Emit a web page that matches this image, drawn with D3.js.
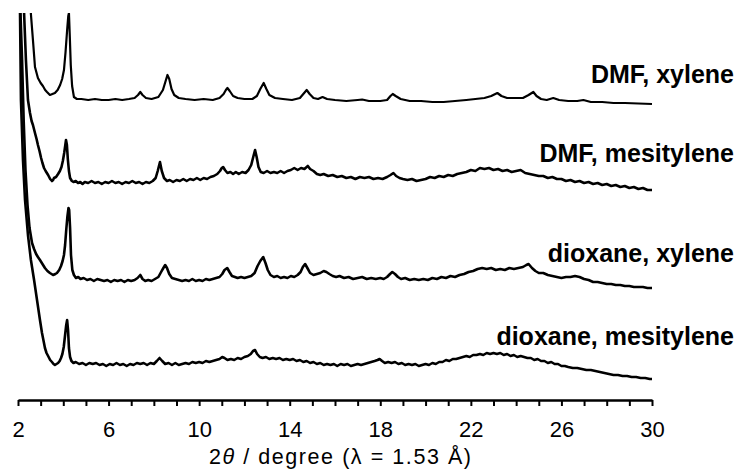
<!DOCTYPE html>
<html>
<head>
<meta charset="utf-8">
<script src="https://cdn.jsdelivr.net/npm/d3@7"></script>
<style>
  body { margin: 0; background: #fff; }
  svg { display: block; font-family: Arial, "Liberation Sans", sans-serif; }
</style>
</head>
<body>
<svg id="chart" width="737" height="470"></svg>
<script>
// 2theta (deg) vs intensity (a.u., relative to each pattern's baseline)
const dmfXylene = [[2.45,160],[2.57,86],[2.66,60],[2.75,33],[2.88,22],[3.0,17],[3.1,14],[3.2,10],[3.28,8],[3.41,5],[3.52,6],[3.63,7],[3.75,10],[3.86,15],[3.95,21],[4.03,30],[4.1,48],[4.17,70],[4.22,84],[4.25,87],[4.29,62],[4.33,35],[4.39,14],[4.47,3],[4.6,1],[4.8,1],[5.1,0],[5.4,1],[5.7,0],[6.0,0],[6.3,1],[6.6,0],[6.9,1],[7.15,2],[7.3,5],[7.4,8],[7.5,5],[7.65,2],[7.9,1],[8.2,3],[8.4,10],[8.52,19],[8.6,25],[8.68,21],[8.78,11],[8.9,5],[9.1,2],[9.4,1],[9.8,0],[10.2,1],[10.6,0],[10.9,2],[11.08,6],[11.18,10],[11.25,12],[11.35,9],[11.5,4],[11.7,2],[12.0,1],[12.35,1],[12.55,4],[12.7,11],[12.85,17],[12.97,11],[13.1,5],[13.35,2],[13.7,1],[14.1,0],[14.45,2],[14.6,6],[14.75,10],[14.88,6],[15.05,2],[15.25,1],[15.45,3],[15.65,1],[16.0,0],[16.5,-1],[17.0,0],[17.2,0.5],[17.5,-1],[18.0,-1],[18.3,0],[18.45,4],[18.55,6],[18.68,4],[18.9,1],[19.3,-1],[19.8,-1],[20.3,-2],[20.8,-2],[21.3,-1],[21.8,0],[22.2,1],[22.6,2],[22.9,4],[23.17,7],[23.35,4],[23.6,2],[23.9,2],[24.3,2],[24.55,5],[24.76,8],[24.9,4],[25.1,1],[25.35,0],[25.64,2],[25.9,0],[26.3,-1],[26.7,-1],[26.97,0],[27.3,-2],[27.8,-2],[28.3,-3],[28.8,-3],[29.4,-3.5],[30.0,-4]];

const dmfMesitylene = [[2.2,260],[2.27,169],[2.35,123],[2.44,83],[2.53,70],[2.6,62],[2.66,58],[2.75,50],[2.82,44],[2.88,38],[2.95,32],[3.02,25],[3.08,20],[3.15,15],[3.22,12],[3.33,8],[3.42,4],[3.5,2],[3.55,3],[3.59,5],[3.68,6],[3.77,9],[3.85,12],[3.92,16],[3.98,22],[4.04,30],[4.09,38],[4.12,43],[4.16,38],[4.2,24],[4.25,12],[4.3,5],[4.38,2],[4.45,1],[4.55,2],[4.65,0],[4.75,1],[4.85,-1],[4.95,1],[5.1,0],[5.25,2],[5.4,0],[5.55,1],[5.7,-1],[5.85,1],[6.0,0],[6.15,2],[6.3,0],[6.45,1],[6.6,-1],[6.75,1],[6.9,0],[7.05,2],[7.2,0],[7.35,1],[7.5,-1],[7.65,1],[7.8,0],[7.95,2],[8.08,5],[8.17,12],[8.27,21],[8.35,12],[8.45,5],[8.58,2],[8.7,3],[8.85,1],[9.0,3],[9.15,2],[9.3,4],[9.45,2],[9.6,4],[9.75,3],[9.9,5],[10.05,3],[10.2,5],[10.35,4],[10.5,6],[10.65,7],[10.8,9],[10.92,12],[11.0,15],[11.06,16],[11.14,13],[11.25,10],[11.38,11],[11.5,9],[11.62,11],[11.75,9],[11.9,11],[12.05,10],[12.18,13],[12.3,18],[12.4,27],[12.47,33],[12.54,26],[12.62,16],[12.72,11],[12.85,10],[13.0,12],[13.15,10],[13.3,11],[13.45,10],[13.6,12],[13.75,10],[13.9,12],[14.05,13],[14.2,15],[14.35,13],[14.5,15],[14.65,14],[14.8,17],[14.9,14],[15.05,12],[15.2,9],[15.35,8],[15.5,9],[15.7,7],[15.9,8],[16.1,6],[16.3,7],[16.5,5],[16.7,6],[16.9,4],[17.1,6],[17.3,5],[17.5,6],[17.7,4],[17.9,5],[18.1,4],[18.3,6],[18.45,8],[18.58,10],[18.7,7],[18.85,5],[19.0,4],[19.2,3],[19.4,4],[19.6,2],[19.8,3],[20.0,4],[20.2,6],[20.4,5],[20.6,7],[20.8,6],[21.0,8],[21.2,7],[21.4,9],[21.6,10],[21.8,11],[22.0,13],[22.2,12],[22.4,15],[22.6,14],[22.8,15],[23.0,13],[23.2,14],[23.4,12],[23.6,13],[23.8,11],[24.0,12],[24.2,13],[24.4,10],[24.6,9],[24.8,8],[25.0,7],[25.2,7],[25.4,5],[25.6,6],[25.8,4],[26.0,4],[26.2,2],[26.4,3],[26.6,1],[26.8,2],[27.0,0],[27.2,1],[27.4,-1],[27.6,0],[27.8,-2],[28.0,-1],[28.2,-3],[28.4,-2],[28.6,-4],[28.8,-3],[29.0,-5],[29.2,-4],[29.4,-6],[29.6,-5],[29.8,-7],[30.0,-7]];

const dioxaneXylene = [[2.02,400],[2.11,266],[2.18,220],[2.25,160],[2.33,110],[2.42,75],[2.51,52],[2.62,37],[2.71,31],[2.8,26],[2.88,23],[2.97,20],[3.08,16],[3.19,12],[3.3,9],[3.41,7],[3.55,5],[3.65,6],[3.72,7],[3.82,10],[3.9,14],[3.97,19],[4.03,25],[4.08,35],[4.13,50],[4.18,63],[4.23,72],[4.26,70],[4.3,52],[4.34,25],[4.4,10],[4.47,5],[4.56,2],[4.66,3],[4.76,1],[4.9,2],[5.05,0],[5.2,1],[5.35,-1],[5.5,1],[5.65,0],[5.8,-1],[5.95,0],[6.1,-2],[6.25,0],[6.4,-1],[6.55,0],[6.7,-2],[6.85,0],[7.0,-1],[7.15,0],[7.28,2],[7.4,5],[7.5,1],[7.62,-1],[7.75,0],[7.9,-1],[8.05,1],[8.2,3],[8.32,8],[8.42,12],[8.5,15],[8.58,12],[8.68,6],[8.8,2],[8.95,1],[9.1,0],[9.25,-1],[9.4,0],[9.55,-1],[9.7,1],[9.85,-1],[10.0,0],[10.15,-1],[10.3,1],[10.45,0],[10.6,1],[10.75,2],[10.9,3],[11.02,6],[11.12,10],[11.24,12],[11.34,8],[11.45,4],[11.58,3],[11.7,2],[11.85,3],[12.0,2],[12.15,3],[12.3,4],[12.45,7],[12.58,14],[12.7,19],[12.83,23],[12.93,17],[13.03,10],[13.15,5],[13.3,3],[13.45,4],[13.6,2],[13.75,3],[13.9,2],[14.05,4],[14.2,3],[14.35,5],[14.48,8],[14.58,13],[14.68,16],[14.78,12],[14.9,7],[15.05,5],[15.2,6],[15.35,7],[15.5,9],[15.62,8],[15.75,6],[15.9,4],[16.05,3],[16.2,4],[16.4,2],[16.6,3],[16.8,1],[17.0,2],[17.2,3],[17.4,1],[17.6,2],[17.8,1],[18.0,2],[18.15,1],[18.3,3],[18.43,6],[18.53,8],[18.65,6],[18.78,3],[18.92,1],[19.1,2],[19.3,0],[19.5,1],[19.7,0],[19.9,1],[20.1,0],[20.3,2],[20.5,1],[20.7,3],[20.9,2],[21.1,4],[21.3,3],[21.5,5],[21.7,6],[21.9,8],[22.1,9],[22.3,11],[22.5,12],[22.7,11],[22.9,12],[23.1,10],[23.3,11],[23.5,10],[23.7,12],[23.9,11],[24.1,12],[24.3,13],[24.45,15],[24.55,16],[24.7,12],[24.85,9],[25.0,7],[25.2,7],[25.4,5],[25.6,4],[25.8,3],[26.0,2],[26.2,3],[26.4,3],[26.6,4],[26.8,3],[27.0,1],[27.2,0],[27.4,-2],[27.6,-2],[27.8,-3],[28.0,-4],[28.2,-4],[28.4,-5],[28.6,-5],[28.8,-6],[29.0,-6],[29.2,-7],[29.4,-7],[29.6,-7],[29.8,-8],[30.0,-8]];

const dioxaneMesitylene = [[1.98,420],[2.09,351],[2.13,265],[2.22,205],[2.31,165],[2.44,130],[2.57,105],[2.71,85],[2.84,65],[2.97,45],[3.06,32],[3.13,24],[3.19,17],[3.26,12],[3.33,9],[3.42,5],[3.5,3],[3.57,1],[3.63,0],[3.7,1],[3.77,2],[3.84,4],[3.9,7],[3.96,11],[4.02,18],[4.08,30],[4.13,40],[4.17,45],[4.21,35],[4.25,17],[4.3,8],[4.36,4],[4.45,2],[4.55,3],[4.7,1],[4.85,2],[5.0,0],[5.15,2],[5.3,1],[5.45,2],[5.6,0],[5.75,1],[5.9,-1],[6.05,1],[6.2,0],[6.35,2],[6.5,0],[6.65,1],[6.8,-1],[6.95,1],[7.1,0],[7.25,2],[7.4,1],[7.55,2],[7.7,0],[7.85,2],[8.0,1],[8.13,4],[8.25,7],[8.37,4],[8.5,1],[8.65,2],[8.8,0],[8.95,2],[9.1,0],[9.25,1],[9.4,2],[9.55,1],[9.7,3],[9.85,2],[10.0,3],[10.15,2],[10.3,4],[10.45,3],[10.6,4],[10.75,5],[10.9,6],[11.02,8],[11.12,7],[11.25,5],[11.4,6],[11.55,5],[11.7,7],[11.85,6],[12.0,8],[12.15,9],[12.28,11],[12.38,14],[12.47,15],[12.56,11],[12.68,8],[12.8,7],[12.95,8],[13.1,6],[13.25,7],[13.4,6],[13.55,7],[13.7,5],[13.85,6],[14.0,5],[14.15,6],[14.3,4],[14.45,5],[14.6,3],[14.75,4],[14.9,2],[15.05,3],[15.2,1],[15.35,2],[15.5,0],[15.65,1],[15.8,0],[15.95,1],[16.1,-1],[16.25,1],[16.4,0],[16.55,1],[16.7,-1],[16.85,0],[17.0,1],[17.15,0],[17.3,1],[17.45,2],[17.6,3],[17.75,4],[17.88,5],[17.97,6],[18.08,4],[18.2,2],[18.35,3],[18.5,2],[18.65,3],[18.8,1],[18.95,2],[19.1,0],[19.25,1],[19.4,0],[19.55,1],[19.7,-1],[19.85,0],[20.0,1],[20.15,0],[20.3,2],[20.45,1],[20.6,3],[20.75,3],[20.9,5],[21.05,4],[21.2,6],[21.35,6],[21.5,7],[21.65,8],[21.8,9],[21.95,8],[22.1,10],[22.25,10],[22.4,11],[22.55,10],[22.7,12],[22.85,11],[23.0,12],[23.15,11],[23.3,12],[23.45,10],[23.6,11],[23.75,9],[23.9,10],[24.05,8],[24.2,9],[24.35,8],[24.5,7],[24.65,7],[24.8,5],[24.95,6],[25.1,4],[25.25,4],[25.4,2],[25.55,3],[25.7,1],[25.85,1],[26.0,-1],[26.15,-1],[26.3,-2],[26.5,-3],[26.7,-3],[26.9,-4],[27.1,-5],[27.3,-5],[27.5,-6],[27.7,-7],[27.9,-8],[28.1,-9],[28.3,-10],[28.5,-10],[28.7,-11],[28.9,-11],[29.1,-12],[29.3,-12],[29.5,-13],[29.7,-13],[29.9,-14],[30.0,-14]];

const seriesNames = ['DMF, xylene', 'DMF, mesitylene', 'dioxane, xylene', 'dioxane, mesitylene'];
const seriesData = [dmfXylene, dmfMesitylene, dioxaneXylene, dioxaneMesitylene];
const offsets = [298, 215, 118, 33];      // vertical stacking offsets (a.u.)
const labelLevels = [315, 236, 136, 53];  // where each name sits (a.u.)
const xTicks = d3.range(2, 31, 1);
const xLabelTicks = [2, 6, 10, 14, 18, 22, 26, 30];

const svg = d3.select('#chart');
const plotLeft = 18, plotRight = 652, plotTop = 13, plotBottom = 398, axisY = 400;

const x = d3.scaleLinear().domain([2, 30]).range([plotLeft, plotRight]);
const y = d3.scaleLinear().domain([0, 385]).range([plotBottom, plotTop]);

svg.append('clipPath').attr('id', 'plot-clip')
  .append('rect')
  .attr('x', 0).attr('y', plotTop)
  .attr('width', 737).attr('height', axisY - plotTop);

const line = d3.line()
  .x((d) => x(d[0]))
  .y((d) => y(d[1]));

const traces = svg.append('g').attr('clip-path', 'url(#plot-clip)');
seriesData.forEach((data, i) => {
  traces.append('path')
    .datum(data.map((d) => [d[0], d[1] + offsets[i]]))
    .attr('d', line)
    .attr('fill', 'none')
    .attr('stroke', '#000')
    .attr('stroke-width', i === 0 ? 2.2 : 2.6)
    .attr('stroke-linejoin', 'round');
});

// names
svg.append('g')
  .selectAll('text')
  .data(seriesNames)
  .join('text')
  .attr('x', 734)
  .attr('y', (d, i) => y(labelLevels[i]))
  .attr('text-anchor', 'end')
  .attr('font-size', 25)
  .attr('font-weight', 'bold')
  .attr('fill', '#000')
  .text((d) => d);

// x axis
const xAxis = d3.axisBottom(x)
  .tickValues(xTicks)
  .tickSize(6)
  .tickSizeOuter(0)
  .tickPadding(15)
  .tickFormat((d) => (xLabelTicks.includes(d) ? d : ''));

const gx = svg.append('g')
  .attr('transform', `translate(0,${axisY})`)
  .call(xAxis);

gx.select('.domain').attr('stroke-width', 2.6).attr('stroke', '#000');
gx.selectAll('.tick line').attr('stroke-width', 2).attr('stroke', '#000');
gx.selectAll('.tick text')
  .attr('font-size', 22)
  .attr('font-family', 'Arial, "Liberation Sans", sans-serif')
  .attr('fill', '#000');

const title = svg.append('text')
  .attr('x', 340)
  .attr('y', 464)
  .attr('text-anchor', 'middle')
  .attr('font-size', 21.5)
  .attr('textLength', 262)
  .attr('lengthAdjust', 'spacing')
  .attr('fill', '#000');
title.append('tspan').text('2');
title.append('tspan').attr('font-style', 'italic').text('θ');
title.append('tspan').text(' / degree (λ = 1.53 Å)');
</script>
</body>
</html>
